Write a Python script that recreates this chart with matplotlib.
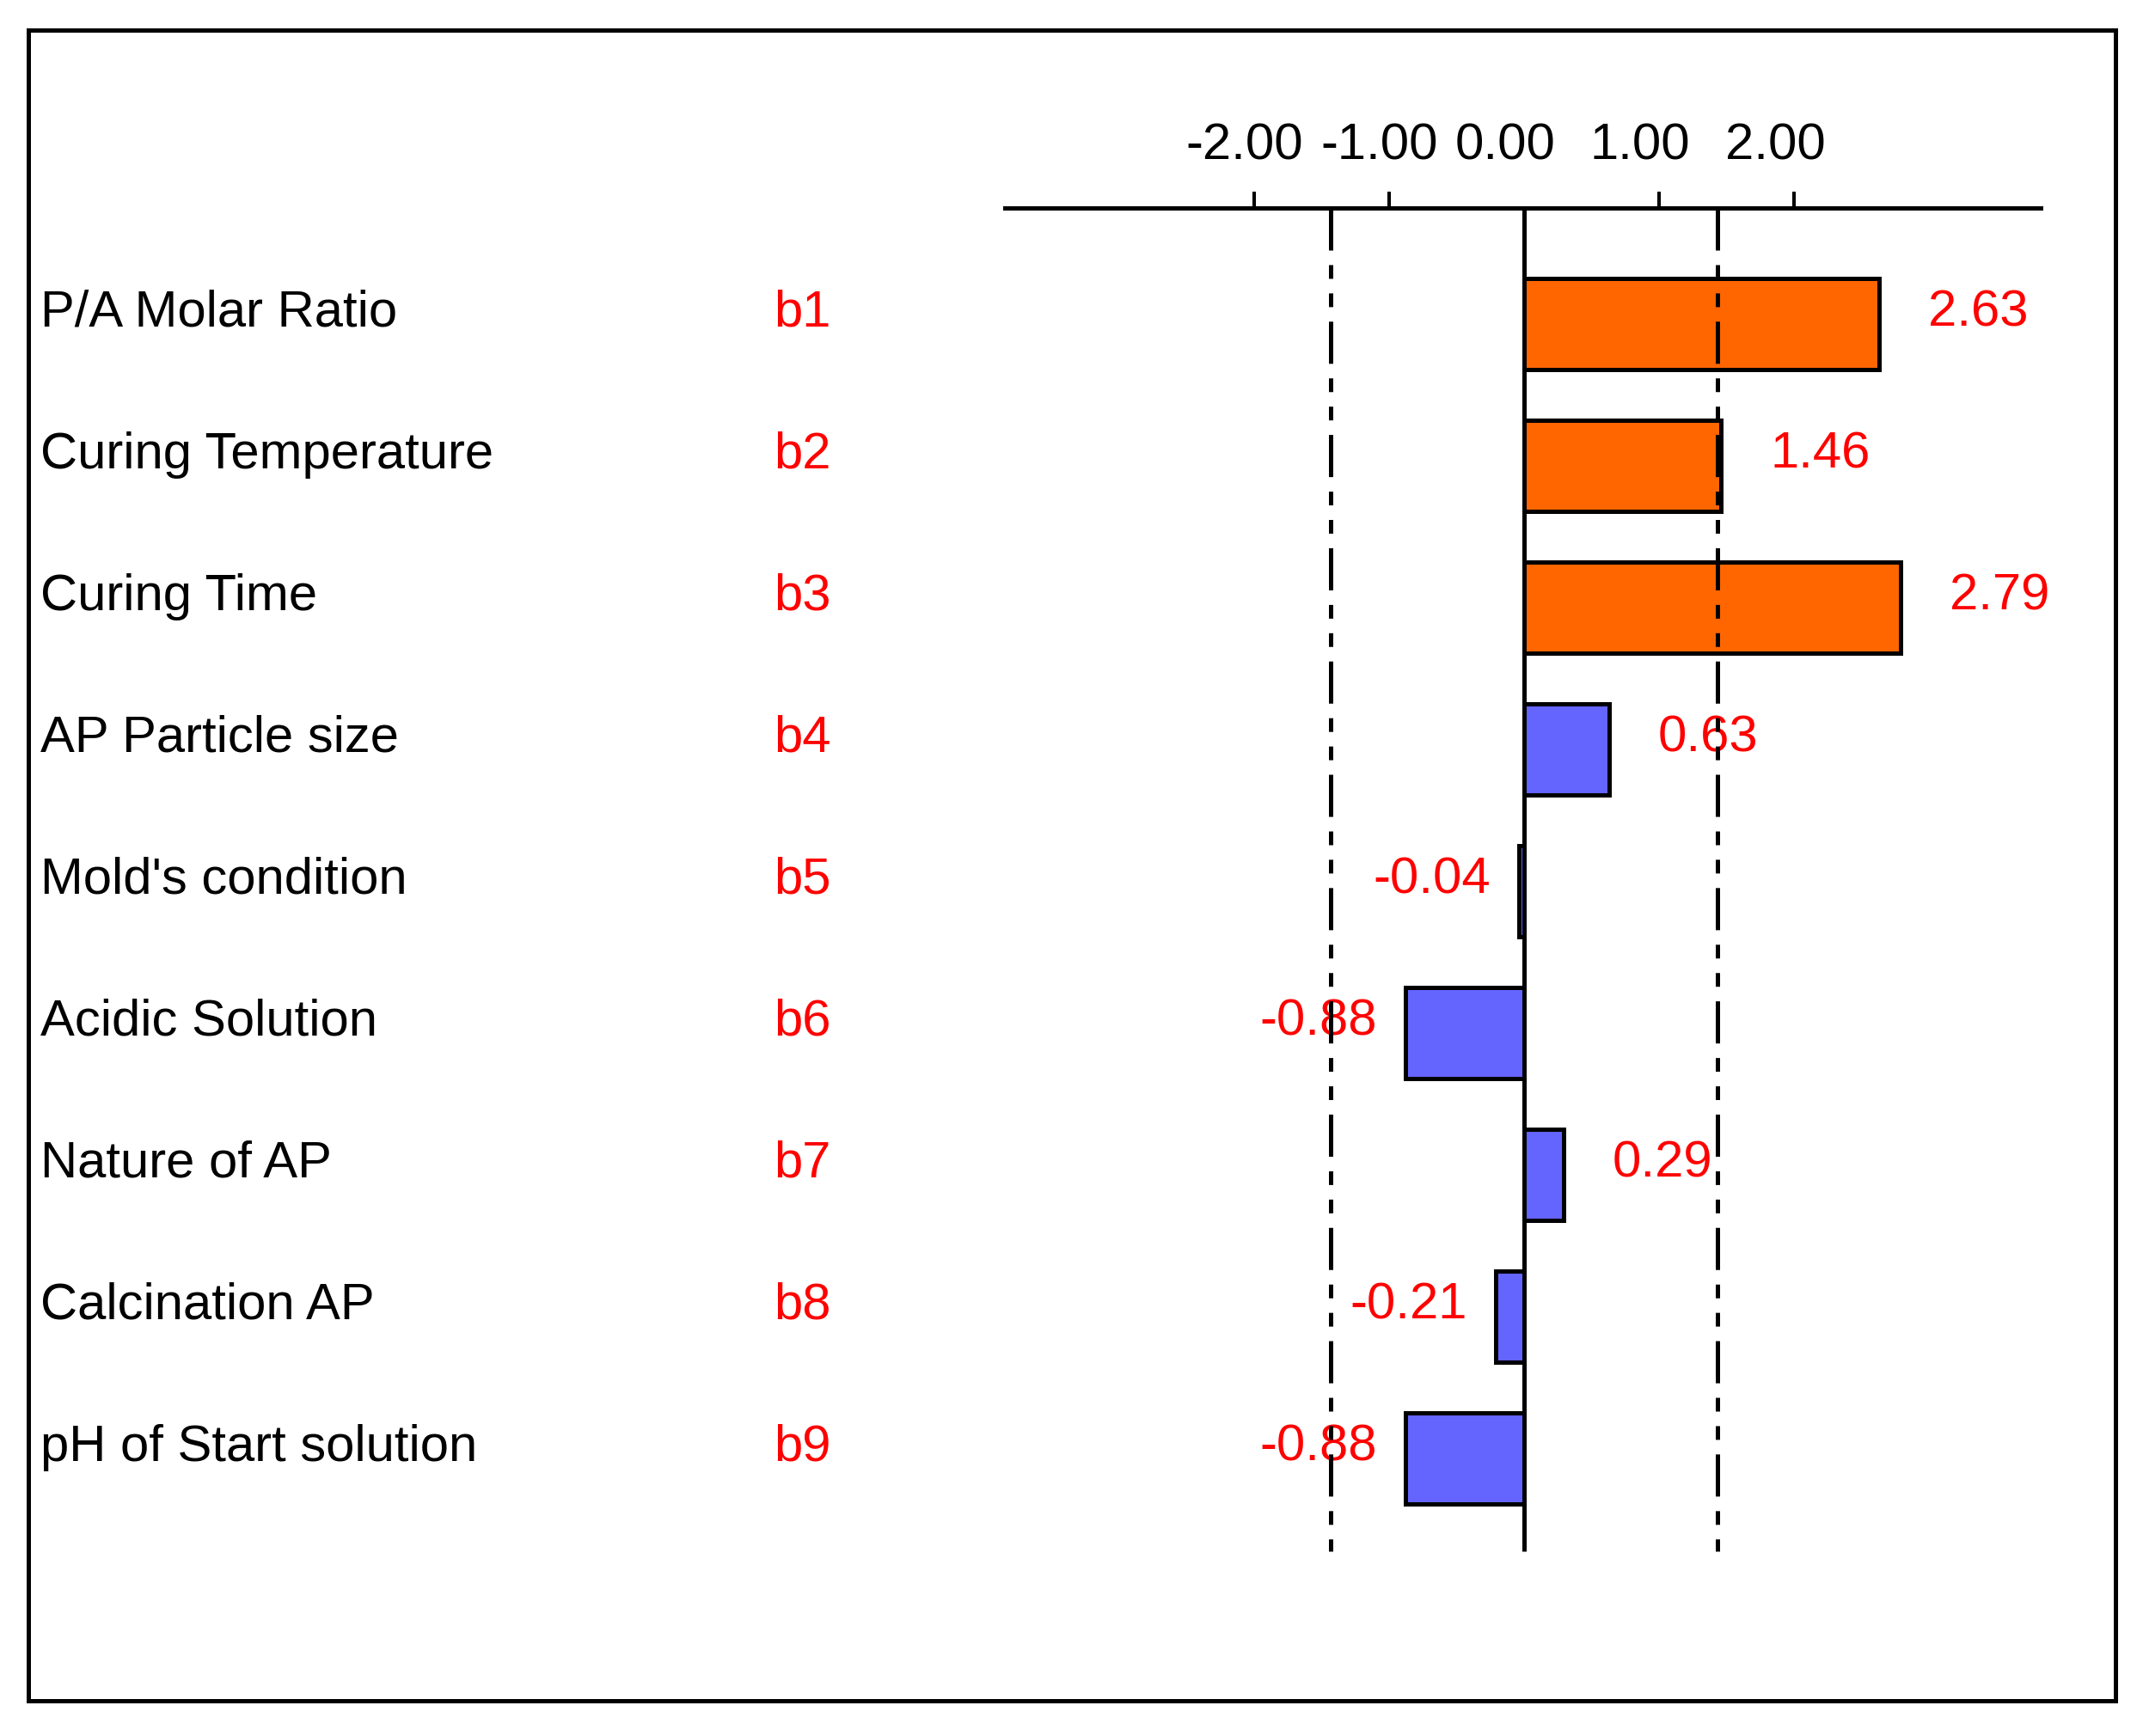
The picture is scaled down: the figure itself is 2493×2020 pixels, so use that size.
import matplotlib
matplotlib.use("Agg")
import matplotlib.pyplot as plt
import matplotlib.font_manager as fm
from matplotlib import transforms
from matplotlib.patches import Rectangle

# ---------------- data ----------------
factors = ["P/A Molar Ratio", "Curing Temperature", "Curing Time", "AP Particle size",
           "Mold's condition", "Acidic Solution", "Nature of AP", "Calcination AP",
           "pH of Start solution"]
codes = ["b1", "b2", "b3", "b4", "b5", "b6", "b7", "b8", "b9"]
effects = [2.63, 1.46, 2.79, 0.63, -0.04, -0.88, 0.29, -0.21, -0.88]
effect_labels = ["2.63", "1.46", "2.79", "0.63", "-0.04", "-0.88", "0.29", "-0.21", "-0.88"]
tick_values = [-2, -1, 0, 1, 2]
tick_labels = ["-2.00", "-1.00", "0.00", "1.00", "2.00"]
t_critical = 1.43

# ---------------- style ----------------
plt.rcParams['lines.scale_dashes'] = False
names = {f.name for f in fm.fontManager.ttflist}
if 'Liberation Sans Narrow' in names:
    fam, fs = 'Liberation Sans Narrow', 51
else:
    fam, fs = 'Liberation Sans', 43
plt.rcParams['font.family'] = [fam, 'DejaVu Sans']

ORANGE = '#FF6600'
BLUE = '#6464FF'
RED = '#FF0000'
LW = 3.6

W, H = 2493, 2020
fig = plt.figure(figsize=(W / 100, H / 100), dpi=100)
fig.patch.set_facecolor('white')

ax = fig.add_axes([1169 / W, 1 - 1805 / H, (2374 - 1169) / W, (1805 - 242) / H])
xlim = (-3.847, 3.828)
ylim = (8.655, -0.818)
ax.set_xlim(*xlim)
ax.set_ylim(*ylim)
for s in ['left', 'right', 'bottom']:
    ax.spines[s].set_visible(False)
ax.spines['top'].set_linewidth(LW)
ax.xaxis.set_ticks_position('top')
ax.set_xticks(tick_values)
ax.tick_params(axis='x', direction='out', length=13.7, width=2.9,
               labeltop=False, labelbottom=False)
for tk, v in zip(ax.xaxis.get_major_ticks(), tick_values):
    if v == 0:
        tk.tick2line.set_visible(False)
        tk.tick1line.set_visible(False)
ax.set_yticks([])
ax.patch.set_alpha(0)

# tick labels (left-aligned, shifted left of tick)
tl_trans = transforms.offset_copy(ax.get_xaxis_transform(), fig=fig, x=-80, y=57, units='dots')
for v, lab in zip(tick_values, tick_labels):
    ax.text(v, 1, lab, transform=tl_trans, ha='left', va='baseline',
            fontsize=fs, color='black', clip_on=False)

# bars
ypos = list(range(len(effects)))
colors = [ORANGE if abs(v) > t_critical else BLUE for v in effects]
ax.barh(ypos, effects, height=0.64, color=colors, edgecolor='black',
        linewidth=LW, zorder=2)

# zero line and critical dashed lines
ax.plot([0, 0], [ylim[1], ylim[0]], color='black', lw=LW, zorder=6,
        solid_capstyle='butt', clip_on=False)
for t in (-t_critical, t_critical):
    ax.plot([t, t], [ylim[1], ylim[0]], color='black', lw=LW, zorder=6,
            dashes=[35.3, 12.2, 11.5, 12.2, 11.5, 12.2], dash_capstyle='butt',
            clip_on=False)

# value labels
for i, (v, lab) in enumerate(zip(effects, effect_labels)):
    if v > 0:
        ax.annotate(lab, xy=(v, i), xytext=(57, -3), textcoords='offset pixels',
                    ha='left', va='baseline', color=RED, fontsize=fs, zorder=4,
                    annotation_clip=False)
    else:
        ax.annotate(lab, xy=(v, i), xytext=(-33, -3), textcoords='offset pixels',
                    ha='right', va='baseline', color=RED, fontsize=fs, zorder=4,
                    annotation_clip=False)

# factor names and codes
row_trans = transforms.offset_copy(
    transforms.blended_transform_factory(fig.transFigure, ax.transData),
    fig=fig, x=0, y=-3, units='dots')
for i, (name, code) in enumerate(zip(factors, codes)):
    ax.text(47 / W, i, name, transform=row_trans, ha='left', va='baseline',
            fontsize=fs, color='black', clip_on=False)
    ax.text(900 / W, i, code, transform=row_trans, ha='left', va='baseline',
            fontsize=fs, color=RED, clip_on=False)

# outer frame
fig.patches.append(Rectangle((32.5 / W, 1 - 1979 / H), (2460.5 - 32.5) / W,
                             (1979 - 34.5) / H, transform=fig.transFigure,
                             fill=False, edgecolor='black', linewidth=LW))

fig.savefig('out.png', dpi=100, facecolor='white')
